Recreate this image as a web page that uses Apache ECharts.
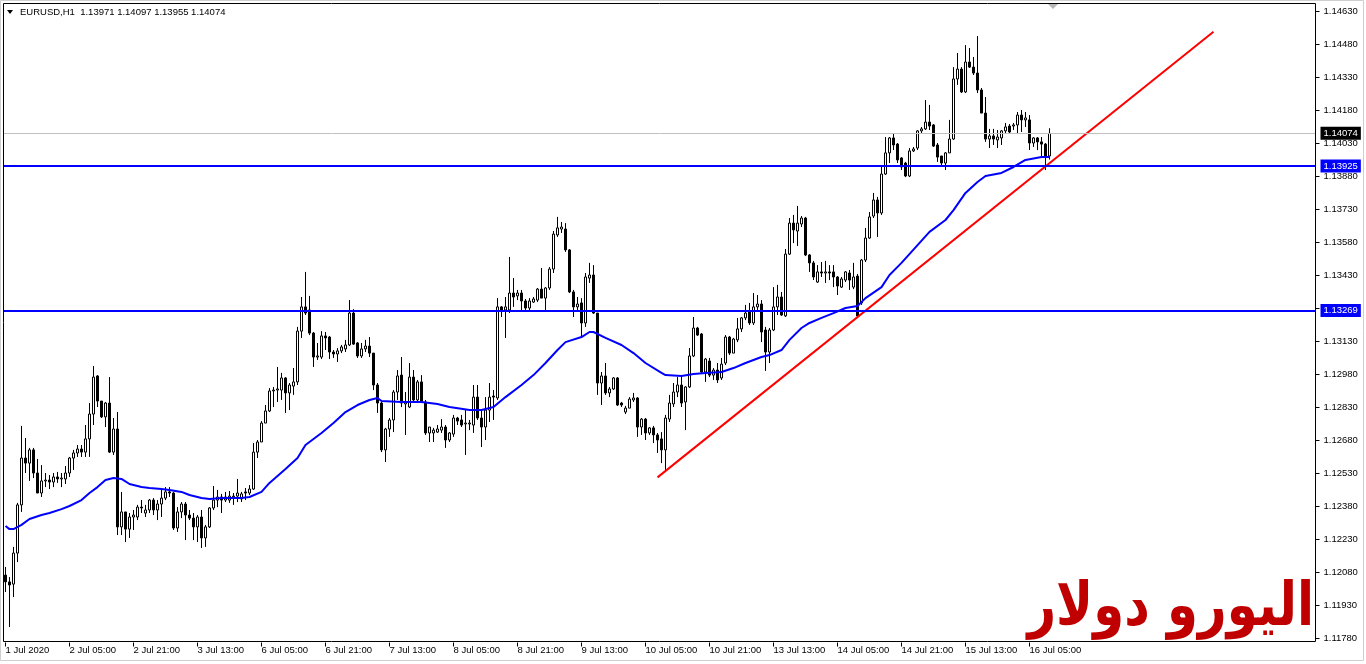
<!DOCTYPE html>
<html>
<head>
<meta charset="utf-8">
<style>
html,body{margin:0;padding:0;background:#ffffff;}
#chart{width:1366px;height:664px;}
</style>
<script src="https://cdn.jsdelivr.net/npm/echarts@6.0.0/dist/echarts.min.js"></script>
</head>
<body>
<div id="chart"></div>
<script>
// ---- chart text ----
const symbolTitle = 'EURUSD,H1  1.13971 1.14097 1.13955 1.14074';
const watermarkText = 'اليورو دولار';

// ---- hourly bars, first bar 1 Jul 2020 13:00 ----
const opens = [
1.12066,1.12035,1.12025,1.12166,1.12385,1.12598,1.12575,1.12635,1.12530,1.12439,
1.12494,1.12498,1.12489,1.12512,1.12503,1.12503,1.12530,1.12598,1.12621,1.12639,
1.12625,1.12685,1.12798,1.12971,1.12857,1.12785,1.12848,1.12625,1.12730,1.12285,
1.12353,1.12275,1.12330,1.12330,1.12375,1.12348,1.12362,1.12407,1.12362,1.12389,
1.12416,1.12444,1.12439,1.12280,1.12353,1.12389,1.12339,1.12325,1.12285,1.12330,
1.12235,1.12285,1.12371,1.12407,1.12421,1.12407,1.12407,1.12421,1.12425,1.12412,
1.12444,1.12439,1.12457,1.12625,1.12671,1.12757,1.12812,1.12903,1.12907,1.12907,
1.12962,1.12894,1.12925,1.12944,1.13175,1.13285,1.13271,1.13166,1.13057,1.13057,
1.13153,1.13148,1.13080,1.13071,1.13085,1.13094,1.13112,1.13257,1.13121,1.13062,
1.13094,1.13107,1.13075,1.12930,1.12848,1.12635,1.12730,1.12771,1.12898,1.12975,
1.12844,1.12830,1.12966,1.12862,1.12944,1.12853,1.12712,1.12712,1.12716,1.12725,
1.12739,1.12680,1.12707,1.12780,1.12771,1.12753,1.12753,1.12748,1.12875,1.12780,
1.12739,1.12816,1.12880,1.12871,1.13285,1.13271,1.13271,1.13348,1.13335,1.13348,
1.13312,1.13280,1.13307,1.13316,1.13366,1.13325,1.13371,1.13457,1.13612,1.13639,
1.13639,1.13544,1.13353,1.13285,1.13303,1.13212,1.13416,1.13430,1.13257,1.12939,
1.12971,1.12894,1.12912,1.12962,1.12848,1.12807,1.12825,1.12862,1.12871,1.12739,
1.12775,1.12712,1.12735,1.12703,1.12685,1.12635,1.12775,1.12844,1.12898,1.12930,
1.12853,1.12921,1.13062,1.13189,1.13162,1.12989,1.13039,1.12975,1.12998,1.12962,
1.13030,1.13148,1.13075,1.13135,1.13185,1.13235,1.13262,1.13212,1.13285,1.13298,
1.13180,1.13080,1.13180,1.13285,1.13330,1.13244,1.13525,1.13666,1.13630,1.13662,
1.13689,1.13521,1.13485,1.13398,1.13444,1.13439,1.13444,1.13444,1.13421,1.13375,
1.13407,1.13439,1.13375,1.13425,1.13303,1.13498,1.13598,1.13698,1.13771,1.13712,
1.13889,1.13985,1.14053,1.14025,1.13962,1.13939,1.13880,1.13994,1.14007,1.14085,
1.14094,1.14125,1.14112,1.14021,1.13971,1.13939,1.13985,1.14048,1.14321,1.14366,
1.14262,1.14398,1.14375,1.14348,1.14271,1.14166,1.14048,1.14062,1.14044,1.14053,
1.14085,1.14107,1.14107,1.14112,1.14157,1.14135,1.14135,1.14030,1.14053,1.14035,
1.14025,1.13971
];
const closes = [
1.12035,1.12021,1.12166,1.12385,1.12598,1.12575,1.12635,1.12530,1.12439,1.12494,
1.12498,1.12489,1.12512,1.12503,1.12507,1.12530,1.12598,1.12621,1.12639,1.12625,
1.12685,1.12798,1.12966,1.12857,1.12785,1.12848,1.12625,1.12730,1.12285,1.12353,
1.12275,1.12330,1.12339,1.12375,1.12371,1.12362,1.12407,1.12362,1.12389,1.12416,
1.12444,1.12439,1.12280,1.12353,1.12389,1.12339,1.12325,1.12285,1.12330,1.12235,
1.12285,1.12371,1.12407,1.12421,1.12407,1.12421,1.12425,1.12425,1.12439,1.12435,
1.12439,1.12457,1.12625,1.12671,1.12757,1.12812,1.12903,1.12907,1.12912,1.12962,
1.12894,1.12930,1.12944,1.13175,1.13285,1.13257,1.13166,1.13057,1.13062,1.13153,
1.13144,1.13080,1.13071,1.13085,1.13103,1.13112,1.13257,1.13116,1.13062,1.13094,
1.13107,1.13075,1.12930,1.12848,1.12635,1.12730,1.12771,1.12898,1.12971,1.12848,
1.12853,1.12966,1.12862,1.12944,1.12853,1.12712,1.12739,1.12725,1.12730,1.12739,
1.12680,1.12712,1.12780,1.12766,1.12748,1.12757,1.12757,1.12875,1.12780,1.12739,
1.12816,1.12875,1.12875,1.13285,1.13271,1.13285,1.13348,1.13330,1.13348,1.13312,
1.13280,1.13312,1.13321,1.13366,1.13325,1.13371,1.13457,1.13616,1.13644,1.13648,
1.13544,1.13353,1.13285,1.13298,1.13212,1.13421,1.13430,1.13257,1.12939,1.12971,
1.12894,1.12912,1.12962,1.12839,1.12839,1.12825,1.12866,1.12871,1.12739,1.12775,
1.12712,1.12735,1.12703,1.12680,1.12635,1.12780,1.12848,1.12898,1.12930,1.12848,
1.12921,1.13062,1.13189,1.13157,1.12989,1.13048,1.12975,1.12998,1.12953,1.13025,
1.13148,1.13075,1.13139,1.13185,1.13235,1.13257,1.13212,1.13285,1.13298,1.13171,
1.13080,1.13180,1.13285,1.13330,1.13248,1.13525,1.13666,1.13635,1.13666,1.13689,
1.13521,1.13485,1.13421,1.13444,1.13439,1.13444,1.13439,1.13421,1.13380,1.13412,
1.13444,1.13407,1.13421,1.13244,1.13498,1.13598,1.13694,1.13771,1.13712,1.13889,
1.13985,1.14053,1.14021,1.13953,1.13921,1.13880,1.13994,1.14003,1.14085,1.14094,
1.14125,1.14107,1.14016,1.13966,1.13939,1.13985,1.14048,1.14321,1.14366,1.14262,
1.14398,1.14375,1.14348,1.14271,1.14166,1.14048,1.14062,1.14048,1.14057,1.14085,
1.14103,1.14080,1.14112,1.14157,1.14135,1.14144,1.14030,1.14053,1.14035,1.14025,
1.13966,1.14074
];
const lows = [
1.11989,1.11830,1.11966,1.12125,1.12353,1.12530,1.12494,1.12507,1.12439,1.12421,
1.12466,1.12457,1.12466,1.12485,1.12466,1.12480,1.12512,1.12544,1.12603,1.12603,
1.12603,1.12603,1.12748,1.12830,1.12780,1.12739,1.12621,1.12612,1.12248,1.12248,
1.12216,1.12235,1.12271,1.12316,1.12348,1.12330,1.12348,1.12339,1.12316,1.12330,
1.12407,1.12421,1.12271,1.12262,1.12325,1.12225,1.12316,1.12225,1.12216,1.12189,
1.12194,1.12280,1.12362,1.12375,1.12348,1.12398,1.12394,1.12385,1.12398,1.12398,
1.12407,1.12430,1.12453,1.12598,1.12671,1.12757,1.12807,1.12830,1.12853,1.12862,
1.12803,1.12816,1.12885,1.12930,1.13144,1.13248,1.13157,1.13012,1.13044,1.13048,
1.13089,1.13048,1.13053,1.13035,1.13075,1.13080,1.13107,1.13112,1.13053,1.13053,
1.13080,1.13057,1.12907,1.12803,1.12625,1.12580,1.12694,1.12716,1.12862,1.12830,
1.12703,1.12825,1.12853,1.12848,1.12848,1.12703,1.12671,1.12671,1.12712,1.12712,
1.12644,1.12671,1.12694,1.12748,1.12739,1.12612,1.12725,1.12712,1.12771,1.12648,
1.12680,1.12762,1.12771,1.12862,1.13239,1.13144,1.13257,1.13285,1.13316,1.13271,
1.13271,1.13271,1.13303,1.13307,1.13325,1.13271,1.13362,1.13439,1.13603,1.13621,
1.13535,1.13348,1.13239,1.13271,1.13148,1.13194,1.13394,1.13253,1.12885,1.12839,
1.12885,1.12875,1.12907,1.12835,1.12830,1.12798,1.12825,1.12853,1.12694,1.12703,
1.12680,1.12703,1.12666,1.12621,1.12575,1.12544,1.12762,1.12830,1.12875,1.12830,
1.12725,1.12916,1.13057,1.13153,1.12985,1.12944,1.12966,1.12953,1.12939,1.12953,
1.13021,1.13066,1.13075,1.13125,1.13171,1.13225,1.13203,1.13203,1.13271,1.13125,
1.12994,1.13030,1.13175,1.13248,1.13244,1.13239,1.13521,1.13575,1.13562,1.13648,
1.13516,1.13444,1.13407,1.13394,1.13421,1.13394,1.13407,1.13375,1.13339,1.13371,
1.13398,1.13362,1.13366,1.13239,1.13294,1.13489,1.13594,1.13689,1.13603,1.13703,
1.13885,1.13939,1.13998,1.13939,1.13907,1.13875,1.13875,1.13989,1.13998,1.14075,
1.14089,1.14089,1.14012,1.13944,1.13930,1.13907,1.13985,1.14044,1.14294,1.14257,
1.14257,1.14371,1.14339,1.14257,1.14166,1.14035,1.14007,1.14021,1.14007,1.14021,
1.14075,1.14075,1.14089,1.14075,1.14080,1.14103,1.13998,1.14012,1.13998,1.13962,
1.13907,1.13955
];
const highs = [
1.12103,1.12057,1.12194,1.12394,1.12744,1.12689,1.12644,1.12644,1.12594,1.12566,
1.12530,1.12521,1.12530,1.12535,1.12530,1.12562,1.12603,1.12635,1.12657,1.12657,
1.12748,1.12848,1.13016,1.12975,1.12857,1.12853,1.12966,1.12780,1.12807,1.12444,
1.12353,1.12348,1.12362,1.12385,1.12407,1.12385,1.12412,1.12416,1.12407,1.12462,
1.12466,1.12466,1.12444,1.12375,1.12398,1.12398,1.12362,1.12348,1.12339,1.12362,
1.12294,1.12375,1.12471,1.12453,1.12435,1.12444,1.12448,1.12439,1.12503,1.12444,
1.12462,1.12475,1.12666,1.12680,1.12766,1.12839,1.12916,1.12921,1.13012,1.12985,
1.12966,1.12939,1.13007,1.13194,1.13330,1.13444,1.13335,1.13171,1.13121,1.13175,
1.13171,1.13153,1.13089,1.13098,1.13112,1.13135,1.13316,1.13275,1.13125,1.13121,
1.13135,1.13148,1.13075,1.12939,1.12853,1.12735,1.12780,1.12907,1.12998,1.13057,
1.12898,1.13030,1.12998,1.12953,1.12975,1.12862,1.12739,1.12735,1.12748,1.12775,
1.12748,1.12716,1.12794,1.12785,1.12794,1.12816,1.12771,1.12930,1.12930,1.12816,
1.12875,1.12939,1.12907,1.13325,1.13289,1.13330,1.13512,1.13416,1.13362,1.13362,
1.13321,1.13325,1.13330,1.13371,1.13462,1.13375,1.13466,1.13630,1.13694,1.13671,
1.13666,1.13548,1.13362,1.13330,1.13325,1.13439,1.13485,1.13475,1.13257,1.12989,
1.13030,1.12921,1.12966,1.12966,1.12853,1.12835,1.12875,1.12894,1.12875,1.12780,
1.12780,1.12739,1.12744,1.12712,1.12716,1.12794,1.12885,1.12939,1.12966,1.12975,
1.12925,1.13098,1.13239,1.13194,1.13166,1.13053,1.13053,1.13007,1.13030,1.13053,
1.13157,1.13153,1.13144,1.13235,1.13239,1.13294,1.13303,1.13348,1.13339,1.13316,
1.13194,1.13189,1.13375,1.13385,1.13353,1.13548,1.13689,1.13703,1.13744,1.13698,
1.13694,1.13525,1.13494,1.13475,1.13489,1.13494,1.13475,1.13475,1.13425,1.13421,
1.13448,1.13453,1.13485,1.13435,1.13503,1.13644,1.13716,1.13803,1.13785,1.13930,
1.14057,1.14057,1.14075,1.14030,1.13966,1.13944,1.14007,1.14012,1.14089,1.14103,
1.14225,1.14203,1.14116,1.14030,1.13971,1.13989,1.14135,1.14375,1.14439,1.14375,
1.14475,1.14462,1.14421,1.14516,1.14280,1.14239,1.14094,1.14094,1.14089,1.14089,
1.14121,1.14116,1.14121,1.14171,1.14180,1.14171,1.14157,1.14057,1.14057,1.14057,
1.14030,1.14097
];

// ---- moving average (blue), read at these bar positions ----
const maBars = [0,1,2,4,6,9,11,14,16,19,21,23,25,27,29,31,34,36,39,41,44,46,49,51,54,59,61,64,66,70,
73,75,79,82,85,88,91,93,94,99,104,108,111,116,119,122,125,129,132,135,138,140,144,146,147,150,154,157,160,164,
165,169,172,175,179,182,185,189,191,194,196,199,201,204,207,210,213,215,219,221,224,231,235,237,240,243,245,249,252,255,
259,261];
const maValues = [1.12289,1.12275,1.12275,1.12294,1.12321,1.12339,1.12348,1.12366,1.12380,1.12407,1.12439,1.12466,1.12498,1.12507,1.12503,1.12480,1.12466,1.12462,1.12457,1.12453,1.12444,1.12430,1.12416,1.12412,1.12416,1.12416,1.12421,1.12444,1.12485,1.12548,
1.12598,1.12657,1.12712,1.12757,1.12807,1.12839,1.12862,1.12871,1.12857,1.12853,1.12853,1.12844,1.12830,1.12816,1.12816,1.12830,1.12875,1.12930,1.12975,1.13030,1.13089,1.13125,1.13148,1.13171,1.13171,1.13144,1.13112,1.13075,1.13030,1.12985,
1.12975,1.12971,1.12980,1.12985,1.12989,1.13007,1.13030,1.13057,1.13066,1.13089,1.13135,1.13189,1.13212,1.13235,1.13257,1.13280,1.13289,1.13325,1.13375,1.13430,1.13485,1.13626,1.13680,1.13725,1.13803,1.13853,1.13880,1.13894,1.13921,1.13953,
1.13966,1.13966];

// ---- drawn objects ----
const levelLines = [1.13925, 1.13269];
const lastPrice = 1.14074;
const trendBars = [163, 302];
const trendPrices = [1.12510, 1.14536];

// ---- axis ticks ----
const yTickMin = 1.11780;
const yTickMax = 1.14630;
const yTickStep = 0.0015;
const labelEveryBars = 16;
const futureBars = 66;
const monthNames = ['Jan','Feb','Mar','Apr','May','Jun','Jul','Aug','Sep','Oct','Nov','Dec'];

// bar times: hourly, weekends skipped
const barTimes = [];
let t = Date.UTC(2020, 6, 1, 13);
while (barTimes.length < opens.length) {
  const wd = new Date(t).getUTCDay();
  if (wd !== 0 && wd !== 6) barTimes.push(t);
  t += 3600000;
}
const categories = barTimes.map(ms => new Date(ms).toISOString().slice(0,16));
for (let i = 0; i < futureBars; i++) categories.push('future-' + i);

function tickLabel(i) {
  if (i >= barTimes.length) return '';
  const d = new Date(barTimes[i]);
  const m = monthNames[d.getUTCMonth()];
  if (i === 0) return d.getUTCDate() + ' ' + m + ' ' + d.getUTCFullYear();
  return d.getUTCDate() + ' ' + m + ' ' + String(d.getUTCHours()).padStart(2,'0') + ':00';
}
const showTick = i => i % labelEveryBars === 0 && i < barTimes.length;

const candleData = opens.map((o, i) => [o, closes[i], lows[i], highs[i]]);
const maData = maBars.map((b, i) => [b, maValues[i]]);
const trendData = trendBars.map((b, i) => [b, trendPrices[i]]);

const FONT = '"Liberation Sans", Arial, sans-serif';
const FS = 9.5;

const chart = echarts.init(document.getElementById('chart'), null, {renderer: 'canvas'});

function levelLabel(bg) {
  return {
    show: true, position: 'end', distance: 5,
    formatter: p => Number(p.value).toFixed(5),
    color: '#ffffff', backgroundColor: bg,
    padding: [2, 3, 1, 3], fontSize: FS, fontFamily: FONT
  };
}

chart.setOption({
  animation: false,
  backgroundColor: '#ffffff',
  grid: [
    {left: 3.5, top: 11, width: 1312, height: 627},
    {left: 3.5, top: 641.5, width: 1312, height: 1}
  ],
  xAxis: [
    {type: 'category', gridIndex: 0, data: categories, boundaryGap: true,
     axisLine: {show: false}, axisTick: {show: false}, axisLabel: {show: false}, splitLine: {show: false}},
    {type: 'category', gridIndex: 1, data: categories, boundaryGap: true, position: 'bottom',
     axisLine: {show: false},
     axisTick: {show: true, interval: (i) => showTick(i), alignWithLabel: true, length: 4, lineStyle: {color: '#000000'}},
     axisLabel: {show: true, interval: (i) => showTick(i), formatter: (v, i) => tickLabel(i),
                 align: 'left', margin: 3, fontSize: FS, fontFamily: FONT, color: '#000000'},
     splitLine: {show: false}}
  ],
  yAxis: [
    {type: 'value', gridIndex: 0, position: 'right', min: yTickMin, max: yTickMax, interval: yTickStep,
     axisLine: {show: true, lineStyle: {color: '#000000'}},
     axisTick: {show: true, length: 4, lineStyle: {color: '#000000'}},
     axisLabel: {margin: 8, fontSize: FS, fontFamily: FONT, color: '#000000', formatter: v => v.toFixed(5)},
     splitLine: {show: false}},
    {type: 'value', gridIndex: 1, show: false}
  ],
  series: [
    {
      type: 'candlestick', xAxisIndex: 0, yAxisIndex: 0,
      data: candleData, barWidth: 2,
      itemStyle: {color: '#ffffff', color0: '#000000', borderColor: '#000000', borderColor0: '#000000',
                  borderColorDoji: '#000000', borderWidth: 1},
      emphasis: {disabled: true},
      markLine: {
        silent: true, symbol: ['none', 'none'], animation: false, precision: 5,
        data: [
          {yAxis: lastPrice, lineStyle: {color: '#c0c0c0', width: 1, type: 'solid'}, label: levelLabel('#000000')},
          {yAxis: levelLines[0], lineStyle: {color: '#0000ff', width: 2, type: 'solid'}, label: levelLabel('#0000ff')},
          {yAxis: levelLines[1], lineStyle: {color: '#0000ff', width: 2, type: 'solid'}, label: levelLabel('#0000ff')}
        ]
      }
    },
    {
      type: 'line', xAxisIndex: 0, yAxisIndex: 0, data: maData,
      showSymbol: false, symbol: 'none', lineStyle: {color: '#0000ff', width: 2}, silent: true, z: 3
    },
    {
      type: 'line', xAxisIndex: 0, yAxisIndex: 0, data: trendData,
      showSymbol: false, symbol: 'none', lineStyle: {color: '#ff0000', width: 2}, silent: true, z: 4
    }
  ],
  graphic: [
    {type: 'rect', silent: true, z: 100, shape: {x: 0.5, y: 0.5, width: 1363, height: 660},
     style: {fill: 'none', stroke: '#cfcfcf', lineWidth: 1}},
    {type: 'rect', silent: true, z: 100, shape: {x: 3.5, y: 3.5, width: 1312, height: 638},
     style: {fill: 'none', stroke: '#000000', lineWidth: 1}},
    {type: 'polygon', silent: true, z: 100, shape: {points: [[7, 10], [13, 10], [10, 14]]}, style: {fill: '#000000'}},
    {type: 'polygon', silent: true, z: 100, shape: {points: [[1048, 4], [1058, 4], [1053, 9]]}, style: {fill: '#b8b8b8'}},
    {type: 'text', silent: true, z: 100, style: {text: symbolTitle, x: 20, y: 12, verticalAlign: 'middle',
      fontSize: FS, fontFamily: FONT, fill: '#000000'}},
    {type: 'text', silent: true, z: 100, x: 1314, y: 609, scaleX: 0.83, scaleY: 1,
     style: {text: watermarkText, x: 0, y: 0, align: 'right', verticalAlign: 'middle',
      font: 'bold 60px "DejaVu Sans"', fill: '#c00000'}}
  ]
});
</script>
</body>
</html>
